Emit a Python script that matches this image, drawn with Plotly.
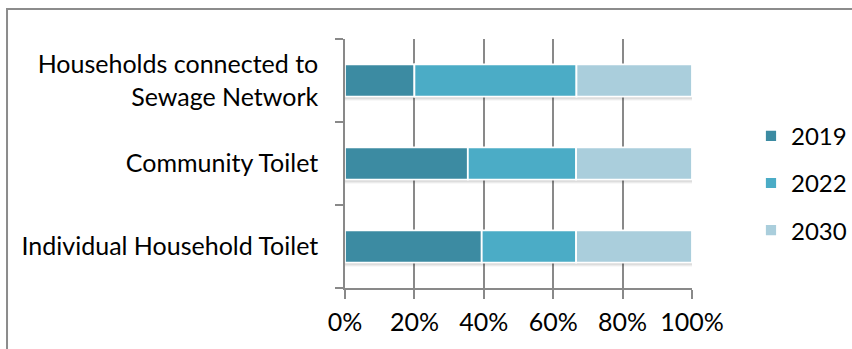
import numpy as np
import plotly.graph_objects as go

categories = ["Individual Household Toilet", "Community Toilet", "Households connected to<br>Sewage Network"]
series_names = ["2019", "2022", "2030"]
v2019 = [39.4, 35.4, 20.0]
v2022 = [27.2, 31.2, 46.7]
v2030 = [33.4, 33.4, 33.3]
x_ticks = [0, 20, 40, 60, 80, 100]
x_tick_labels = [f"{v}%" for v in x_ticks]

colors = ["#3C8BA2", "#4BACC6", "#AACEDC"]
FONT = "Lato"
BAR_W = 0.39

series = np.array([v2019, v2022, v2030], dtype=float)
bases = np.vstack([np.zeros(series.shape[1]), np.cumsum(series, axis=0)[:-1]])
totals = series.sum(axis=0)

fig = go.Figure()
# soft drop shadow under each stacked bar
for k, (dy, a) in enumerate([(0.045, 0.06), (0.03, 0.08), (0.015, 0.08)]):
    fig.add_trace(go.Bar(
        y=categories, x=totals, base=0, orientation="h",
        width=BAR_W, offset=-BAR_W / 2 - dy,
        marker=dict(color=f"rgba(0,0,0,{a})", line=dict(width=0)),
        showlegend=False, hoverinfo="skip",
    ))
for name, vals, b, col in zip(series_names, series, bases, colors):
    fig.add_trace(go.Bar(
        y=categories, x=vals, base=b, name=name, orientation="h",
        width=BAR_W, offset=-BAR_W / 2,
        marker=dict(color=col, line=dict(color="white", width=1.8)),
        legendgroup=name,
    ))

grid_col = "#898989"
fig.update_layout(
    width=852, height=349,
    margin=dict(l=345, r=160, t=39, b=61, autoexpand=False),
    barmode="overlay",
    plot_bgcolor="white", paper_bgcolor="white",
    font=dict(family=FONT, size=25, color="#000000"),
    showlegend=True,
    legend=dict(x=1.17, y=0.70, xanchor="left", yanchor="top",
                traceorder="grouped", tracegroupgap=13,
                font=dict(size=24, family=FONT)),
    xaxis=dict(range=[0, 100], tickvals=x_ticks, ticktext=x_tick_labels,
               showgrid=True, gridcolor=grid_col, gridwidth=1.5,
               showline=True, linecolor=grid_col, linewidth=1.5,
               ticks="outside", ticklen=9, tickcolor=grid_col, tickwidth=1.5,
               ticklabelstandoff=2, zeroline=False),
    yaxis=dict(type="category", tickson="boundaries",
               showgrid=False, showline=True, linecolor=grid_col, linewidth=1.5,
               ticks="outside", ticklen=8, tickcolor=grid_col, tickwidth=1.5,
               ticklabelstandoff=20),
    shapes=[dict(type="rect", xref="paper", yref="paper",
                 x0=-0.974, x1=1.49, y0=-0.3, y1=1.1205,
                 line=dict(color="#8C8C8C", width=2), layer="below")],
)

fig.write_html("out.html")
